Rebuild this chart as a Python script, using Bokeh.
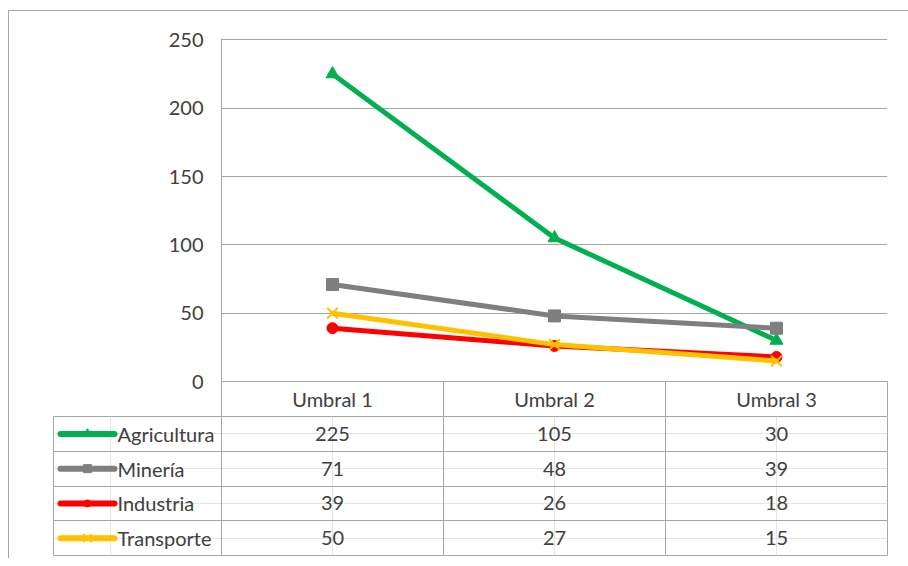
from bokeh.plotting import figure
from bokeh.models import Range1d, FixedTicker, Grid
from bokeh.layouts import column
from bokeh.core.properties import value
from bokeh.embed import file_html
from bokeh.resources import INLINE

# ---- data ----
categories = ["Umbral 1", "Umbral 2", "Umbral 3"]
series_names = ["Agricultura", "Minería", "Industria", "Transporte"]
agricultura = [225, 105, 30]
mineria = [71, 48, 39]
industria = [39, 26, 18]
transporte = [50, 27, 15]
y_ticks = [0, 50, 100, 150, 200, 250]

series_values = [agricultura, mineria, industria, transporte]
colors = ["#00B050", "#7F7F7F", "#FF0000", "#FFC000"]
markers = ["triangle", "square", "circle", "x"]
marker_sizes = [13, 12, 11, 15]

FONT = "Lato"
TXT = "#404040"
LINE = "#A6A6A6"
FS = "20px"

# ---- chart figure ----
xs = [i + 0.5 for i in range(len(categories))]
pA = figure(width=899, height=405, output_backend="svg", toolbar_location=None,
            x_range=Range1d(0, len(categories)), y_range=Range1d(0, 251),
            min_border_left=212, min_border_right=21, min_border_top=27, min_border_bottom=35)
pA.frame_align = False
pA.outline_line_color = None
pA.background_fill_color = "white"
pA.border_fill_color = "white"

for vals, col, mk, ms in zip(series_values, colors, markers, marker_sizes):
    pA.line(xs, vals, line_color=col, line_width=5, line_join="round", line_cap="round")
    if mk == "x":
        pA.scatter(xs, vals, marker=mk, size=ms, line_color=col, line_width=2)
    else:
        pA.scatter(xs, vals, marker=mk, size=ms, fill_color=col, line_color=col)

# y axis
ya = pA.yaxis[0]
ya.ticker = FixedTicker(ticks=y_ticks)
ya.major_tick_out = 0
ya.major_tick_in = 0
ya.minor_tick_out = 0
ya.minor_tick_in = 0
ya.axis_line_color = LINE
ya.major_label_standoff = 18
ya.major_label_text_font = FONT
ya.major_label_text_font_size = FS
ya.major_label_text_color = TXT

pA.ygrid.ticker = FixedTicker(ticks=y_ticks)
pA.ygrid.grid_line_color = LINE
pA.xgrid.visible = False

# x axis = header row of data table
xa = pA.xaxis[0]
xa.ticker = FixedTicker(ticks=xs, minor_ticks=list(range(len(categories) + 1)))
xa.major_label_overrides = {x: c for x, c in zip(xs, categories)}
xa.major_tick_out = 0
xa.major_tick_in = 0
xa.minor_tick_in = 0
xa.minor_tick_out = 35
xa.minor_tick_line_color = LINE
xa.axis_line_color = LINE
xa.major_label_standoff = -30
xa.major_label_text_font = FONT
xa.major_label_text_font_size = FS
xa.major_label_text_color = TXT

# ---- table figure ----
nrows = len(series_names)
left_units = 168 / 222.0
pB = figure(width=899, height=142, output_backend="svg", toolbar_location=None,
            x_range=Range1d(-left_units, len(categories)), y_range=Range1d(nrows, 0),
            x_axis_location=None, y_axis_location=None,
            min_border_left=44, min_border_right=21, min_border_top=0, min_border_bottom=3)
pB.frame_align = False
pB.outline_line_color = LINE
pB.outline_line_width = 1
pB.background_fill_color = "white"
pB.border_fill_color = "white"
pB.add_layout(Grid(dimension=0, ticker=FixedTicker(ticks=list(range(len(categories)))),
                   grid_line_color=LINE))
pB.add_layout(Grid(dimension=1, ticker=FixedTicker(ticks=list(range(1, nrows))),
                   grid_line_color=LINE))

tx, ty, tt = [], [], []
for r, vals in enumerate(series_values):
    for c, v in enumerate(vals):
        tx.append(c + 0.5)
        ty.append(r + 0.5)
        tt.append(str(v))
pB.text(x=tx, y=ty, text=tt, text_align="center", text_baseline="middle",
        text_font=value(FONT), text_font_size=FS, text_color=TXT)

rows_y = [r + 0.5 for r in range(nrows)]
x0 = -left_units + 7 / 222.0
x1 = -left_units + 61 / 222.0
xm = (x0 + x1) / 2
pB.segment(x0=[x0] * nrows, y0=rows_y, x1=[x1] * nrows, y1=rows_y,
           line_color=colors, line_width=6, line_cap="round")
for r, (col, mk, ms) in enumerate(zip(colors, markers, marker_sizes)):
    if mk == "x":
        pB.scatter([xm], [rows_y[r]], marker=mk, size=ms - 3, line_color=col, line_width=1.5)
    else:
        pB.scatter([xm], [rows_y[r]], marker=mk, size=ms - 4, fill_color=col, line_color=col)
pB.text(x=[-left_units + 64 / 222.0] * nrows, y=rows_y, text=series_names,
        text_align="left", text_baseline="middle",
        text_font=value(FONT), text_font_size=FS, text_color=TXT)

layout = column(pA, pB, spacing=0)
layout.margin = (10, 0, 0, 8)
layout.styles = {"border-left": "1px solid #A6A6A6", "border-top": "1px solid #A6A6A6"}

open("out.html", "w").write(file_html(layout, INLINE))
